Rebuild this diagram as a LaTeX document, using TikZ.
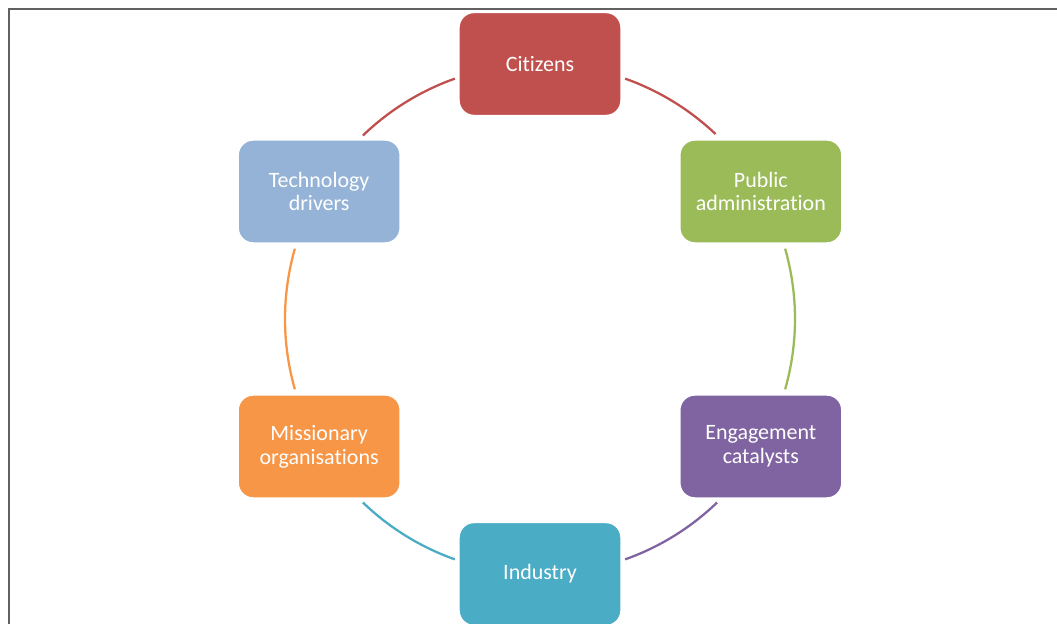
\documentclass[tikz,border=0pt]{standalone}
\usepackage{fontspec}
\setmainfont[Ligatures=NoCommon]{Carlito}
\usetikzlibrary{positioning}

\definecolor{citizensred}{HTML}{C0504D}
\definecolor{publicgreen}{HTML}{9BBB59}
\definecolor{engagepurple}{HTML}{8064A2}
\definecolor{industryteal}{HTML}{4BACC6}
\definecolor{missionorange}{HTML}{F79646}
\definecolor{techblue}{HTML}{95B3D7}

\begin{document}
\begin{tikzpicture}[x=0.02cm, y=0.02cm, thick]
    % Define block styles
    \tikzstyle{block} = [rectangle, draw=white, text=white, align=center, minimum width=3.24cm, minimum height=2.06cm, rounded corners=0.3cm, font=\fontsize{12.5}{13.5}\selectfont]
    \tikzstyle{ring} = [line width=1.3pt]

    % Page area and frame
    \useasboundingbox (-540,-305) rectangle (517,319);
    \draw [line width=1.5pt, black!62] (-531,-310) -- (-531,310) -- (520,310);

    % Place main nodes around the ring
    \node [block, fill=citizensred] (citizens) at (90:255) {Citizens};
    \node [block, fill=publicgreen] (public) at (30:255) {Public\\administration};
    \node [block, fill=engagepurple] (engage) at (-30:255) {Engagement\\catalysts};
    \node [block, fill=industryteal] (industry) at (-90:255) {Industry};
    \node [block, fill=missionorange] (mission) at (-150:255) {Missionary\\organisations};
    \node [block, fill=techblue] (tech) at (150:255) {Technology\\drivers};

    % Draw ring segments between the nodes
    \draw [ring, citizensred] (70.5:255) arc [start angle=70.5, end angle=46.5, radius=255];
    \draw [ring, publicgreen] (16:255) arc [start angle=16, end angle=-16, radius=255];
    \draw [ring, engagepurple] (-46:255) arc [start angle=-46, end angle=-70.5, radius=255];
    \draw [ring, industryteal] (-109.5:255) arc [start angle=-109.5, end angle=-134, radius=255];
    \draw [ring, missionorange] (196:255) arc [start angle=196, end angle=164, radius=255];
    \draw [ring, citizensred] (134:255) arc [start angle=134, end angle=109.5, radius=255];

\end{tikzpicture}
\end{document}
